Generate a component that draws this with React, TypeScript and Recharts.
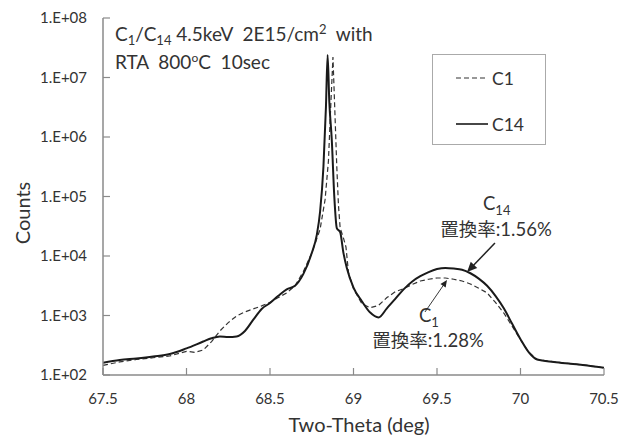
import React from 'react';
import { LineChart, Line, XAxis, YAxis, Legend, ReferenceLine } from 'recharts';

const xTicks = [67.5, 68, 68.5, 69, 69.5, 70, 70.5];
const yTicks = [1e2, 1e3, 1e4, 1e5, 1e6, 1e7, 1e8];

const c14Theta = [
  67.5, 67.6, 67.7, 67.8, 67.9, 68.0, 68.1, 68.15, 68.2, 68.25, 68.3, 68.35, 68.4, 68.45, 68.5,
  68.55, 68.6, 68.65, 68.7, 68.75, 68.78, 68.8, 68.82, 68.835, 68.845, 68.855, 68.87, 68.885,
  68.9, 68.92, 68.94, 68.96, 69.0, 69.05, 69.1, 69.15, 69.2, 69.25, 69.3, 69.35, 69.4, 69.45,
  69.5, 69.55, 69.6, 69.65, 69.7, 69.75, 69.8, 69.85, 69.9, 69.95, 70.0, 70.05, 70.1, 70.2,
  70.3, 70.4, 70.5,
];
const c14Counts = [
  160, 178, 190, 205, 225, 280, 365, 415, 445, 435, 445, 550, 850, 1290, 1620,
  2140, 2750, 3160, 5000, 11200, 22400, 56000, 316000, 3200000, 24000000, 4000000, 890000, 100000,
  29500, 25100, 11200, 6300, 2950, 1740, 1120, 930, 1320, 1900, 2750, 3700, 4570, 5370,
  6030, 6310, 6170, 5890, 5130, 4170, 3160, 2140, 1320, 725, 400, 240, 182, 166,
  155, 145, 132,
];

const c1Theta = [
  67.5, 67.6, 67.7, 67.8, 67.9, 68.0, 68.05, 68.1, 68.15, 68.2, 68.25, 68.3, 68.35, 68.4, 68.45,
  68.5, 68.55, 68.6, 68.65, 68.7, 68.75, 68.8, 68.83, 68.85, 68.865, 68.877, 68.89, 68.9, 68.91,
  68.92, 68.94, 68.955, 68.97, 69.0, 69.05, 69.1, 69.15, 69.2, 69.25, 69.3, 69.35, 69.4, 69.45,
  69.5, 69.55, 69.6, 69.65, 69.7, 69.75, 69.8, 69.85, 69.9, 69.95, 70.0, 70.05, 70.1, 70.2,
  70.3, 70.4, 70.5,
];
const c1Counts = [
  145, 166, 182, 195, 209, 250, 240, 263, 363, 550, 760, 980, 1150, 1290, 1450,
  1660, 2000, 2400, 3160, 5500, 11200, 28200, 89000, 400000, 4000000, 22000000, 2000000, 316000, 71000,
  29500, 20000, 14100, 5250, 2820, 1580, 1350, 1480, 2000, 2510, 2820, 3310, 3800, 4070,
  4270, 4270, 4070, 3800, 3390, 2880, 2400, 1660, 1100, 660, 390, 240, 182, 166,
  155, 145, 132,
];

// annotation arrows (data coordinates)
const c14Arrow = [{ x: 69.847, y: 16500 }, { x: 69.68, y: 5380 }];
const c1Arrow = [{ x: 69.428, y: 1145 }, { x: 69.56, y: 3950 }];

const c14Data = c14Theta.map((t, i) => ({ theta: t, counts: c14Counts[i] }));
const c1Data = c1Theta.map((t, i) => ({ theta: t, counts: c1Counts[i] }));

const FONT = "Lato, 'Noto Sans CJK JP', sans-serif";
const AXIS = '#8a8a8a';
const TEXT = '#333';

const fmtY = (v: number) => '1.E+0' + Math.round(Math.log10(v));

const YTick = (props: any) => {
  const { x, y, payload } = props;
  return (
    <g>
      <line x1={x + 16} x2={x + 23} y1={y} y2={y} stroke={AXIS} strokeWidth={1.2} />
      <text x={x} y={y} dy={5} textAnchor="end" fontFamily={FONT} fontSize={15} fill={TEXT}>
        {fmtY(payload.value)}
      </text>
    </g>
  );
};

const XTick = (props: any) => {
  const { x, y, payload } = props;
  return (
    <g>
      <line x1={x} x2={x} y1={y - 16} y2={y - 23} stroke={AXIS} strokeWidth={1.2} />
      <text x={x} y={y} dy={13} textAnchor="middle" fontFamily={FONT} fontSize={15} fill={TEXT}>
        {String(payload.value)}
      </text>
    </g>
  );
};

const arrowShape = (w: number, head: number) => (props: any) => {
  const { x1, y1, x2, y2 } = props;
  const dx = x2 - x1;
  const dy = y2 - y1;
  const len = Math.sqrt(dx * dx + dy * dy) || 1;
  const ux = dx / len;
  const uy = dy / len;
  const bx = x2 - ux * head;
  const by = y2 - uy * head;
  const px = -uy * head * 0.45;
  const py = ux * head * 0.45;
  return (
    <g>
      <line x1={x1} y1={y1} x2={bx + ux * 1} y2={by + uy * 1} stroke="#222" strokeWidth={w} />
      <polygon points={`${x2},${y2} ${bx + px},${by + py} ${bx - px},${by - py}`} fill="#222" />
    </g>
  );
};

const LegendBox = (props: any) => {
  const { payload } = props;
  return (
    <div
      style={{
        width: 114,
        height: 91,
        border: '1px solid #aaa',
        background: '#fff',
        boxSizing: 'border-box',
        position: 'relative',
      }}
    >
      {(payload || []).map((entry: any, i: number) => (
        <div
          key={entry.value}
          style={{ position: 'absolute', left: 22, top: 12 + i * 46, height: 22, display: 'flex', alignItems: 'center' }}
        >
          <svg width={34} height={22}>
            <line
              x1={1}
              x2={33}
              y1={11}
              y2={11}
              stroke="#333"
              strokeWidth={entry.payload && entry.payload.strokeDasharray ? 1.2 : 1.8}
              strokeDasharray={entry.payload && entry.payload.strokeDasharray ? '5 3' : undefined}
            />
          </svg>
          <span style={{ fontFamily: FONT, fontSize: 17.5, color: TEXT, marginLeft: 3 }}>{entry.value}</span>
        </div>
      ))}
    </div>
  );
};

export default function App() {
  return (
    <div style={{ position: 'absolute', left: 0, top: 0, background: '#fff' }}>
      <LineChart width={628} height={437} margin={{ top: 18, right: 24, bottom: 0, left: 0 }}>
        <XAxis
          dataKey="theta"
          type="number"
          domain={[67.5, 70.5]}
          ticks={xTicks}
          interval={0}
          allowDataOverflow
          height={62}
          tickSize={0}
          tickMargin={16}
          tick={<XTick />}
          axisLine={{ stroke: AXIS, strokeWidth: 1.5 }}
          tickLine={false}
        />
        <XAxis
          xAxisId="top"
          orientation="top"
          dataKey="theta"
          type="number"
          domain={[67.5, 70.5]}
          height={0}
          tick={false}
          tickLine={false}
          axisLine={{ stroke: AXIS, strokeWidth: 1.5 }}
        />
        <YAxis
          dataKey="counts"
          type="number"
          scale="log"
          domain={[100, 1e8]}
          ticks={yTicks}
          interval={0}
          allowDataOverflow
          width={103}
          tickSize={0}
          tickMargin={16}
          tick={<YTick />}
          axisLine={{ stroke: AXIS, strokeWidth: 1.5 }}
          tickLine={false}
        />
        <YAxis
          yAxisId="right"
          orientation="right"
          type="number"
          domain={[0, 1]}
          width={0}
          tick={false}
          tickLine={false}
          axisLine={{ stroke: AXIS, strokeWidth: 1.5 }}
        />
        <Legend
          layout="horizontal"
          verticalAlign="middle"
          align="center"
          content={<LegendBox />}
          wrapperStyle={{ position: 'absolute', left: 432, top: 54, width: 114, height: 91 }}
        />
        <Line
          data={c1Data}
          name="C1"
          dataKey="counts"
          stroke="#333"
          strokeWidth={1.2}
          strokeDasharray="5 3"
          dot={false}
          isAnimationActive={false}
          type="linear"
        />
        <Line
          data={c14Data}
          name="C14"
          dataKey="counts"
          stroke="#1a1a1a"
          strokeWidth={2}
          dot={false}
          isAnimationActive={false}
          type="monotone"
        />
        <ReferenceLine segment={c14Arrow} shape={arrowShape(1.5, 10)} ifOverflow="visible" />
        <ReferenceLine segment={c1Arrow} shape={arrowShape(0.9, 7)} ifOverflow="visible" />

        <text x={115} y={41} fontFamily={FONT} fontSize={19} fill={TEXT} style={{ whiteSpace: 'pre' }}>
          C<tspan dy={4} fontSize={13}>1</tspan>
          <tspan dy={-4}>/C</tspan>
          <tspan dy={4} fontSize={13}>14</tspan>
          <tspan dy={-4}>{' 4.5keV  2E15/cm'}</tspan>
          <tspan dy={-7} fontSize={13}>2</tspan>
          <tspan dy={7}>{'  with'}</tspan>
        </text>
        <text x={115} y={69} fontFamily={FONT} fontSize={19} fill={TEXT} style={{ whiteSpace: 'pre' }}>
          {'RTA  800'}
          <tspan dy={-7} fontSize={12}>o</tspan>
          <tspan dy={7}>{'C  10sec'}</tspan>
        </text>

        <text x={483} y={210} fontFamily={FONT} fontSize={18.5} fill={TEXT}>
          C<tspan dy={5} fontSize={13}>14</tspan>
        </text>
        <text x={496} y={236} textAnchor="middle" fontFamily={FONT} fontSize={18.5} fill={TEXT}>
          置換率:1.56%
        </text>
        <text x={419} y={322} fontFamily={FONT} fontSize={18.5} fill={TEXT}>
          C<tspan dy={5} fontSize={13}>1</tspan>
        </text>
        <text x={428} y={347} textAnchor="middle" fontFamily={FONT} fontSize={18.5} fill={TEXT}>
          置換率:1.28%
        </text>

        <text
          x={22}
          y={213}
          transform="rotate(-90 22 213)"
          textAnchor="middle"
          dominantBaseline="central"
          fontFamily={FONT}
          fontSize={20}
          fill={TEXT}
        >
          Counts
        </text>
        <text x={359} y={432} textAnchor="middle" fontFamily={FONT} fontSize={20} fill={TEXT}>
          Two-Theta (deg)
        </text>
      </LineChart>
    </div>
  );
}
